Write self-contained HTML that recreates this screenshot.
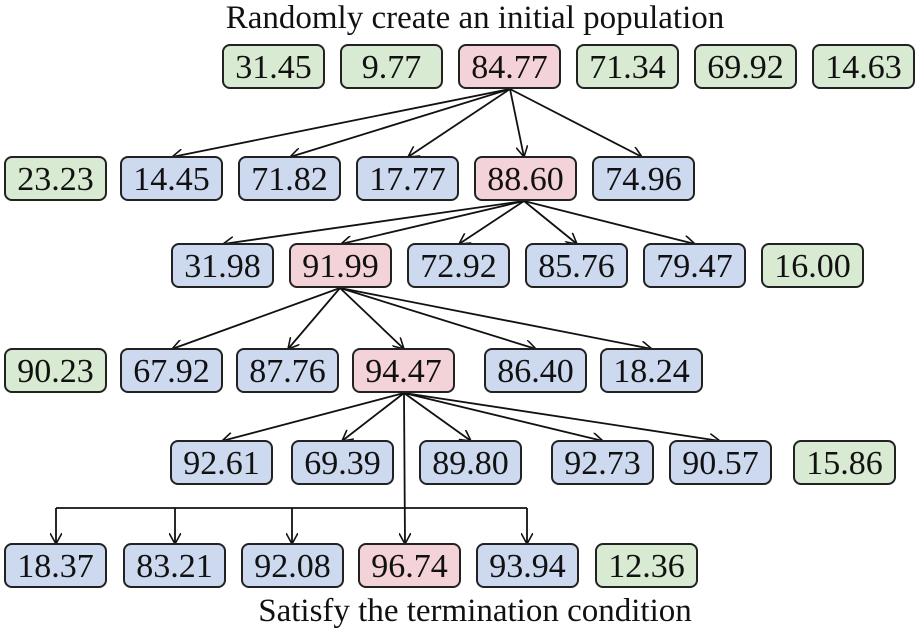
<!DOCTYPE html>
<html><head><style>
body{margin:0;background:#fff;}
svg{display:block;}
text{font-family:"Liberation Serif","Times New Roman",serif;}
.g{fill:#d8ead2}.b{fill:#cdd9ef}.r{fill:#f4d3d8}
rect{stroke:#222;stroke-width:2}
</style></head><body>
<svg width="919" height="634" viewBox="0 0 919 634">
<defs><marker id="a" markerWidth="12" markerHeight="12" refX="11" refY="6" orient="auto" markerUnits="userSpaceOnUse"><path d="M0,0 L11,6 L0,12" fill="none" stroke="#111" stroke-width="1.6"/></marker></defs>
<g stroke="#111" stroke-width="1.8" fill="none" marker-end="url(#a)">
<line x1="510" y1="89" x2="172" y2="157"/><line x1="510" y1="89" x2="290" y2="157"/><line x1="510" y1="89" x2="408" y2="157"/><line x1="510" y1="89" x2="524" y2="157"/><line x1="510" y1="89" x2="642" y2="157"/>
<line x1="524" y1="201" x2="223" y2="244"/><line x1="524" y1="201" x2="341" y2="244"/><line x1="524" y1="201" x2="459" y2="244"/><line x1="524" y1="201" x2="577" y2="244"/><line x1="524" y1="201" x2="695" y2="244"/>
<line x1="340" y1="288" x2="172" y2="349"/><line x1="340" y1="288" x2="288" y2="349"/><line x1="340" y1="288" x2="404" y2="349"/><line x1="340" y1="288" x2="536" y2="349"/><line x1="340" y1="288" x2="652" y2="349"/>
<line x1="404" y1="393" x2="222" y2="441"/><line x1="404" y1="393" x2="342" y2="441"/><line x1="404" y1="393" x2="471" y2="441"/><line x1="404" y1="393" x2="603" y2="441"/><line x1="404" y1="393" x2="720" y2="441"/>
<line x1="404" y1="393" x2="405" y2="544"/>
<polyline points="56,508 56,544"/><polyline points="175,508 175,544"/><polyline points="292,508 292,544"/><polyline points="527,508 527,544"/>
</g>
<line x1="56" y1="508" x2="527" y2="508" stroke="#111" stroke-width="1.8"/>
<g font-family="Liberation Serif, serif" font-size="33" text-anchor="middle" fill="#111">
<text x="475" y="28">Randomly create an initial population</text>
<text x="475" y="621">Satisfy the termination condition</text>
</g>
<g>
<rect class="g" x="223" y="45" width="101" height="43" rx="7"/><rect class="g" x="341" y="45" width="101" height="43" rx="7"/><rect class="r" x="459" y="45" width="101" height="43" rx="7"/><rect class="g" x="577" y="45" width="101" height="43" rx="7"/><rect class="g" x="695" y="45" width="101" height="43" rx="7"/><rect class="g" x="813" y="45" width="101" height="43" rx="7"/>
<rect class="g" x="5" y="157" width="101" height="43" rx="7"/><rect class="b" x="121" y="157" width="101" height="43" rx="7"/><rect class="b" x="239" y="157" width="101" height="43" rx="7"/><rect class="b" x="357" y="157" width="101" height="43" rx="7"/><rect class="r" x="475" y="157" width="101" height="43" rx="7"/><rect class="b" x="593" y="157" width="101" height="43" rx="7"/>
<rect class="b" x="172" y="244" width="101" height="43" rx="7"/><rect class="r" x="290" y="244" width="101" height="43" rx="7"/><rect class="b" x="408" y="244" width="101" height="43" rx="7"/><rect class="b" x="526" y="244" width="101" height="43" rx="7"/><rect class="b" x="644" y="244" width="101" height="43" rx="7"/><rect class="g" x="762" y="244" width="101" height="43" rx="7"/>
<rect class="g" x="5" y="349" width="101" height="43" rx="7"/><rect class="b" x="121" y="349" width="101" height="43" rx="7"/><rect class="b" x="237" y="349" width="101" height="43" rx="7"/><rect class="r" x="353" y="349" width="101" height="43" rx="7"/><rect class="b" x="485" y="349" width="101" height="43" rx="7"/><rect class="b" x="601" y="349" width="101" height="43" rx="7"/>
<rect class="b" x="171" y="441" width="101" height="43" rx="7"/><rect class="b" x="292" y="441" width="101" height="43" rx="7"/><rect class="b" x="420" y="441" width="101" height="43" rx="7"/><rect class="b" x="552" y="441" width="101" height="43" rx="7"/><rect class="b" x="670" y="441" width="101" height="43" rx="7"/><rect class="g" x="794" y="441" width="101" height="43" rx="7"/>
<rect class="b" x="5" y="544" width="101" height="43" rx="7"/><rect class="b" x="124" y="544" width="101" height="43" rx="7"/><rect class="b" x="242" y="544" width="101" height="43" rx="7"/><rect class="r" x="359" y="544" width="101" height="43" rx="7"/><rect class="b" x="477" y="544" width="101" height="43" rx="7"/><rect class="g" x="596" y="544" width="101" height="43" rx="7"/>
</g>
<g font-family="Liberation Serif, serif" font-size="34" text-anchor="middle" fill="#111">
<text x="273.5" y="78">31.45</text><text x="391.5" y="78">9.77</text><text x="509.5" y="78">84.77</text><text x="627.5" y="78">71.34</text><text x="745.5" y="78">69.92</text><text x="863.5" y="78">14.63</text>
<text x="55.5" y="190">23.23</text><text x="171.5" y="190">14.45</text><text x="289.5" y="190">71.82</text><text x="407.5" y="190">17.77</text><text x="525.5" y="190">88.60</text><text x="643.5" y="190">74.96</text>
<text x="222.5" y="277">31.98</text><text x="340.5" y="277">91.99</text><text x="458.5" y="277">72.92</text><text x="576.5" y="277">85.76</text><text x="694.5" y="277">79.47</text><text x="812.5" y="277">16.00</text>
<text x="55.5" y="382">90.23</text><text x="171.5" y="382">67.92</text><text x="287.5" y="382">87.76</text><text x="403.5" y="382">94.47</text><text x="535.5" y="382">86.40</text><text x="651.5" y="382">18.24</text>
<text x="221.5" y="474">92.61</text><text x="342.5" y="474">69.39</text><text x="470.5" y="474">89.80</text><text x="602.5" y="474">92.73</text><text x="720.5" y="474">90.57</text><text x="844.5" y="474">15.86</text>
<text x="55.5" y="577">18.37</text><text x="174.5" y="577">83.21</text><text x="292.5" y="577">92.08</text><text x="409.5" y="577">96.74</text><text x="527.5" y="577">93.94</text><text x="646.5" y="577">12.36</text>
</g>
</svg>
</body></html>
